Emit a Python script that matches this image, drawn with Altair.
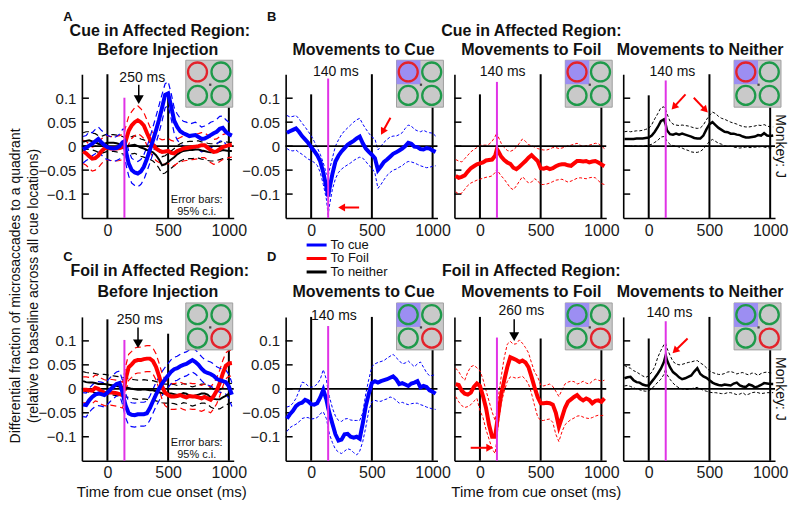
import math
import altair as alt
import pandas as pd

# ---------------- data (time grid in ms) ----------------
T = [-200, -175, -150, -125, -100, -75, -50, -25,
     0, 25, 50, 75, 100, 125,
     140,
     150, 175, 200, 225, 250, 275, 300, 325, 350, 375,
     400, 425, 450, 475, 500, 525, 550, 575, 600, 625,
     650, 675, 700, 725, 750, 775, 800, 825, 850, 875,
     900, 925, 950, 975, 1000, 1025]

# Panel A (cue in affected region, before injection)
A_BLUE = [-0.007, -0.003, 0.001, 0.005, 0.010, 0.015, 0.008, 0.002,
          -0.002, -0.004, -0.005, -0.004, 0.000, 0.008,
          0.010,
          -0.008, -0.036, -0.050, -0.055, -0.057, -0.053, -0.043, -0.027, -0.008, 0.012,
          0.033, 0.055, 0.080, 0.107, 0.110, 0.083, 0.053, 0.040, 0.031, 0.027,
          0.024, 0.021, 0.022, 0.023, 0.019, 0.015, 0.016, 0.019, 0.023, 0.027,
          0.030, 0.036, 0.038, 0.030, 0.025, 0.022]
A_BLUE_HI = [0.020, 0.022, 0.030, 0.028, 0.035, 0.040, 0.033, 0.028,
             0.022, 0.020, 0.018, 0.020, 0.025, 0.035,
             0.036,
             0.018, -0.010, -0.025, -0.030, -0.032, -0.028, -0.018, -0.002, 0.018, 0.040,
             0.062, 0.085, 0.108, 0.130, 0.135, 0.110, 0.080, 0.067, 0.058, 0.052,
             0.050, 0.046, 0.048, 0.050, 0.045, 0.040, 0.042, 0.045, 0.050, 0.052,
             0.056, 0.062, 0.063, 0.055, 0.050, 0.047]
A_BLUE_LO = [-0.035, -0.030, -0.026, -0.020, -0.016, -0.010, -0.018, -0.025,
             -0.028, -0.030, -0.032, -0.030, -0.027, -0.020,
             -0.017,
             -0.035, -0.062, -0.077, -0.082, -0.085, -0.080, -0.070, -0.053, -0.035, -0.015,
             0.006, 0.028, 0.052, 0.080, 0.085, 0.057, 0.027, 0.013, 0.005, 0.000,
             -0.003, -0.006, -0.004, -0.003, -0.007, -0.012, -0.010, -0.008, -0.004, 0.000,
             0.004, 0.010, 0.012, 0.004, -0.002, -0.005]
A_RED = [-0.011, -0.015, -0.021, -0.026, -0.025, -0.020, -0.011, -0.005,
         -0.003, -0.005, -0.005, -0.005, -0.004, -0.002,
         0.004,
         0.010, 0.032, 0.043, 0.050, 0.054, 0.050, 0.043, 0.028, 0.014, 0.003,
         -0.005, -0.009, -0.012, -0.011, -0.010, -0.014, -0.015, -0.010, -0.008, -0.005,
         -0.004, -0.003, -0.002, -0.001, 0.000, 0.002, 0.002, -0.003, -0.008, -0.012,
         -0.011, -0.006, -0.002, 0.000, 0.002, 0.003]
A_RED_HI = [0.012, 0.010, 0.004, -0.002, 0.000, 0.006, 0.015, 0.020,
            0.022, 0.020, 0.020, 0.021, 0.022, 0.025,
            0.032,
            0.040, 0.062, 0.072, 0.080, 0.084, 0.078, 0.070, 0.055, 0.040, 0.028,
            0.020, 0.016, 0.013, 0.014, 0.016, 0.012, 0.010, 0.015, 0.018, 0.021,
            0.022, 0.023, 0.024, 0.025, 0.026, 0.028, 0.028, 0.023, 0.018, 0.014,
            0.015, 0.020, 0.024, 0.026, 0.028, 0.029]
A_RED_LO = [-0.036, -0.040, -0.046, -0.052, -0.050, -0.045, -0.037, -0.030,
            -0.028, -0.030, -0.030, -0.031, -0.030, -0.028,
            -0.024,
            -0.018, 0.004, 0.016, 0.022, 0.026, 0.022, 0.016, 0.002, -0.012, -0.022,
            -0.030, -0.034, -0.038, -0.037, -0.036, -0.040, -0.041, -0.036, -0.034, -0.031,
            -0.030, -0.029, -0.028, -0.027, -0.026, -0.024, -0.024, -0.029, -0.034, -0.038,
            -0.037, -0.032, -0.028, -0.026, -0.024, -0.023]
A_BLK = [0.009, 0.011, 0.012, 0.010, 0.008, 0.005, 0.003, 0.005,
         0.007, 0.007, 0.007, 0.006, 0.004, 0.002,
         0.001,
         0.000, 0.001, 0.002, 0.003, 0.000, -0.003, -0.005, -0.008, -0.010, -0.013,
         -0.019, -0.028, -0.040, -0.038, -0.033, -0.028, -0.023, -0.017, -0.013, -0.010,
         -0.009, -0.008, -0.008, -0.007, -0.007, -0.009, -0.010, -0.012, -0.013, -0.013,
         -0.012, -0.010, -0.008, -0.009, -0.010, -0.010]
A_BLK_HI = [0.028, 0.030, 0.030, 0.027, 0.026, 0.022, 0.020, 0.023,
            0.025, 0.024, 0.024, 0.023, 0.022, 0.020,
            0.018,
            0.017, 0.019, 0.020, 0.022, 0.018, 0.015, 0.013, 0.010, 0.008, 0.005,
            -0.001, -0.010, -0.022, -0.020, -0.015, -0.010, -0.005, 0.001, 0.005, 0.008,
            0.009, 0.010, 0.010, 0.011, 0.011, 0.009, 0.008, 0.006, 0.005, 0.005,
            0.006, 0.008, 0.010, 0.009, 0.008, 0.008]
A_BLK_LO = [-0.009, -0.007, -0.006, -0.008, -0.010, -0.013, -0.015, -0.013,
            -0.011, -0.011, -0.011, -0.012, -0.014, -0.016,
            -0.017,
            -0.018, -0.017, -0.016, -0.015, -0.018, -0.021, -0.023, -0.026, -0.028, -0.031,
            -0.037, -0.046, -0.058, -0.056, -0.051, -0.046, -0.041, -0.035, -0.031, -0.028,
            -0.027, -0.026, -0.026, -0.025, -0.025, -0.027, -0.028, -0.030, -0.031, -0.031,
            -0.030, -0.028, -0.026, -0.027, -0.028, -0.028]

# Panel C (foil in affected region, before injection)
C_BLUE = [-0.033, -0.034, -0.024, -0.017, -0.012, -0.010, -0.011, -0.013,
          -0.008, -0.001, 0.005, 0.010, 0.012, -0.008,
          -0.025,
          -0.035, -0.051, -0.054, -0.055, -0.053, -0.053, -0.053, -0.051, -0.040, -0.026,
          -0.012, 0.000, 0.011, 0.020, 0.028, 0.036, 0.041, 0.043, 0.047, 0.050,
          0.052, 0.056, 0.060, 0.056, 0.050, 0.042, 0.036, 0.033, 0.031, 0.027,
          0.021, 0.018, 0.016, 0.014, 0.005, -0.012]
C_BLUE_HI = [-0.008, -0.009, 0.001, 0.008, 0.013, 0.015, 0.014, 0.012,
             0.017, 0.024, 0.030, 0.035, 0.037, 0.017,
             0.000,
             -0.010, -0.026, -0.029, -0.030, -0.028, -0.028, -0.028, -0.026, -0.015, -0.001,
             0.013, 0.025, 0.036, 0.045, 0.053, 0.061, 0.066, 0.068, 0.072, 0.075,
             0.077, 0.081, 0.085, 0.081, 0.075, 0.067, 0.061, 0.058, 0.056, 0.052,
             0.046, 0.043, 0.041, 0.039, 0.030, 0.013]
C_BLUE_LO = [-0.058, -0.059, -0.049, -0.042, -0.037, -0.035, -0.036, -0.038,
             -0.033, -0.026, -0.020, -0.015, -0.013, -0.033,
             -0.050,
             -0.060, -0.076, -0.079, -0.080, -0.078, -0.078, -0.078, -0.076, -0.065, -0.051,
             -0.037, -0.025, -0.014, -0.005, 0.003, 0.011, 0.016, 0.018, 0.022, 0.025,
             0.027, 0.031, 0.035, 0.031, 0.025, 0.017, 0.011, 0.008, 0.006, 0.002,
             -0.004, -0.007, -0.009, -0.011, -0.020, -0.037]
C_RED = [-0.002, -0.002, -0.003, -0.004, 0.002, 0.000, -0.005, -0.008,
         -0.009, -0.007, -0.008, -0.009, -0.011, -0.013,
         0.005,
         0.020, 0.045, 0.051, 0.058, 0.060, 0.060, 0.062, 0.063, 0.063, 0.058,
         0.046, 0.027, 0.005, -0.008, -0.013, -0.016, -0.016, -0.015, -0.013, -0.016,
         -0.018, -0.015, -0.016, -0.016, -0.018, -0.020, -0.017, -0.020, -0.023, -0.015,
         -0.004, 0.012, 0.032, 0.048, 0.053, 0.054]
C_RED_HI = [0.025, 0.025, 0.024, 0.023, 0.029, 0.027, 0.022, 0.019,
            0.018, 0.020, 0.019, 0.018, 0.016, 0.014,
            0.032,
            0.047, 0.072, 0.078, 0.085, 0.087, 0.087, 0.089, 0.090, 0.090, 0.085,
            0.073, 0.054, 0.032, 0.019, 0.014, 0.011, 0.011, 0.012, 0.014, 0.011,
            0.009, 0.012, 0.011, 0.011, 0.009, 0.007, 0.010, 0.007, 0.004, 0.012,
            0.023, 0.039, 0.059, 0.075, 0.080, 0.081]
C_RED_LO = [-0.029, -0.029, -0.030, -0.031, -0.025, -0.027, -0.032, -0.035,
            -0.036, -0.034, -0.035, -0.036, -0.038, -0.040,
            -0.022,
            -0.007, 0.018, 0.024, 0.031, 0.033, 0.033, 0.035, 0.036, 0.036, 0.031,
            0.019, 0.000, -0.022, -0.035, -0.040, -0.043, -0.043, -0.042, -0.040, -0.043,
            -0.045, -0.042, -0.043, -0.043, -0.045, -0.047, -0.044, -0.047, -0.050, -0.042,
            -0.031, -0.015, 0.005, 0.021, 0.026, 0.027]
C_BLK = [0.016, 0.014, 0.013, 0.013, 0.012, 0.010, 0.010, 0.010,
         0.009, 0.008, 0.007, 0.006, 0.005, 0.004,
         0.003,
         0.003, 0.002, 0.000, -0.001, -0.002, -0.002, -0.001, -0.002, -0.003, -0.003,
         -0.005, -0.007, -0.009, -0.010, -0.010, -0.010, -0.011, -0.013, -0.012, -0.009,
         -0.010, -0.014, -0.016, -0.014, -0.012, -0.010, -0.010, -0.012, -0.018, -0.021,
         -0.022, -0.022, -0.018, -0.015, -0.010, -0.008]
C_BLK_HI = [0.036, 0.034, 0.033, 0.033, 0.032, 0.030, 0.030, 0.030,
            0.029, 0.028, 0.027, 0.026, 0.025, 0.024,
            0.023,
            0.023, 0.022, 0.020, 0.019, 0.018, 0.018, 0.019, 0.018, 0.017, 0.017,
            0.015, 0.013, 0.011, 0.010, 0.010, 0.010, 0.009, 0.007, 0.008, 0.011,
            0.010, 0.006, 0.004, 0.006, 0.008, 0.010, 0.010, 0.008, 0.002, -0.001,
            -0.002, -0.002, 0.002, 0.005, 0.010, 0.012]
C_BLK_LO = [-0.004, -0.006, -0.007, -0.007, -0.008, -0.010, -0.010, -0.010,
            -0.011, -0.012, -0.013, -0.014, -0.015, -0.016,
            -0.017,
            -0.017, -0.018, -0.020, -0.021, -0.022, -0.022, -0.021, -0.022, -0.023, -0.023,
            -0.025, -0.027, -0.029, -0.030, -0.030, -0.030, -0.031, -0.033, -0.032, -0.029,
            -0.030, -0.034, -0.036, -0.034, -0.032, -0.030, -0.030, -0.032, -0.038, -0.041,
            -0.042, -0.042, -0.038, -0.035, -0.030, -0.028]

# Panel B (cue in affected region): to cue / to foil / to neither
B1 = [0.028, 0.031, 0.034, 0.037, 0.030, 0.021, 0.014, 0.007,
      -0.002, -0.010, -0.019, -0.032, -0.055, -0.085,
      -0.105,
      -0.090, -0.058, -0.032, -0.020, -0.011, -0.004, 0.003, 0.007, 0.011, 0.016,
      0.020, 0.006, -0.005, -0.012, -0.018, -0.025, -0.050, -0.042, -0.033, -0.028,
      -0.022, -0.016, -0.013, -0.009, -0.005, 0.000, 0.007, 0.005, -0.001, -0.002,
      -0.006, -0.007, -0.004, -0.005, -0.009, -0.012]
B1_HI = [0.064, 0.061, 0.062, 0.064, 0.057, 0.048, 0.040, 0.031,
         0.022, 0.010, -0.003, -0.017, -0.035, -0.057,
         -0.063,
         -0.050, -0.025, 0.000, 0.013, 0.024, 0.032, 0.038, 0.044, 0.050, 0.055,
         0.058, 0.046, 0.036, 0.027, 0.019, 0.015, -0.008, 0.000, 0.008, 0.014,
         0.019, 0.021, 0.021, 0.024, 0.028, 0.037, 0.044, 0.042, 0.035, 0.032,
         0.030, 0.033, 0.030, 0.028, 0.027, 0.021]
B1_LO = [-0.005, -0.009, -0.010, -0.008, -0.013, -0.017, -0.022, -0.027,
         -0.030, -0.034, -0.040, -0.055, -0.080, -0.110,
         -0.143,
         -0.125, -0.090, -0.068, -0.055, -0.048, -0.043, -0.039, -0.035, -0.030, -0.026,
         -0.023, -0.025, -0.032, -0.040, -0.046, -0.056, -0.088, -0.080, -0.070, -0.061,
         -0.055, -0.050, -0.048, -0.044, -0.041, -0.035, -0.032, -0.033, -0.035, -0.038,
         -0.041, -0.043, -0.045, -0.044, -0.042, -0.041]
B2 = [-0.062, -0.066, -0.064, -0.061, -0.053, -0.046, -0.042, -0.038,
      -0.036, -0.034, -0.030, -0.029, -0.028, -0.020,
      -0.006,
      -0.010, -0.022, -0.029, -0.034, -0.037, -0.045, -0.048, -0.043, -0.037, -0.031,
      -0.024, -0.019, -0.025, -0.031, -0.046, -0.047, -0.045, -0.048, -0.046, -0.042,
      -0.039, -0.038, -0.038, -0.040, -0.041, -0.036, -0.031, -0.031, -0.032, -0.031,
      -0.034, -0.032, -0.031, -0.034, -0.038, -0.042]
B2_HI = [-0.028, -0.031, -0.033, -0.026, -0.019, -0.012, -0.007, -0.003,
         0.002, 0.002, 0.002, 0.004, 0.010, 0.020,
         0.029,
         0.020, 0.006, -0.003, -0.009, -0.011, -0.008, -0.002, 0.006, 0.015, 0.010,
         0.003, 0.001, -0.002, -0.005, -0.007, -0.008, -0.008, -0.006, -0.003, -0.003,
         -0.005, -0.004, -0.002, 0.001, 0.002, 0.004, 0.006, 0.002, -0.001, 0.001,
         0.002, 0.004, 0.006, 0.005, 0.000, -0.005]
B2_LO = [-0.095, -0.100, -0.098, -0.090, -0.082, -0.077, -0.074, -0.071,
         -0.069, -0.067, -0.065, -0.064, -0.062, -0.055,
         -0.048,
         -0.053, -0.062, -0.069, -0.078, -0.087, -0.091, -0.083, -0.073, -0.064, -0.070,
         -0.077, -0.075, -0.068, -0.072, -0.080, -0.080, -0.079, -0.077, -0.074, -0.071,
         -0.070, -0.069, -0.072, -0.075, -0.073, -0.070, -0.067, -0.066, -0.067, -0.068,
         -0.066, -0.065, -0.066, -0.072, -0.078, -0.080]
B3 = [0.015, 0.015, 0.015, 0.015, 0.016, 0.016, 0.016, 0.017,
      0.018, 0.022, 0.030, 0.040, 0.052, 0.056,
      0.045,
      0.033, 0.025, 0.024, 0.026, 0.024, 0.026, 0.024, 0.022, 0.020, 0.017,
      0.016, 0.016, 0.022, 0.035, 0.046, 0.050, 0.044, 0.038, 0.034, 0.030,
      0.029, 0.026, 0.026, 0.024, 0.023, 0.020, 0.018, 0.018, 0.019, 0.020,
      0.023, 0.022, 0.027, 0.022, 0.021, 0.022]
B3_HI = [0.030, 0.031, 0.030, 0.031, 0.032, 0.032, 0.033, 0.035,
         0.037, 0.045, 0.057, 0.068, 0.080, 0.082,
         0.076,
         0.068, 0.052, 0.046, 0.044, 0.043, 0.044, 0.043, 0.042, 0.040, 0.038,
         0.037, 0.038, 0.044, 0.055, 0.064, 0.071, 0.068, 0.062, 0.058, 0.056,
         0.053, 0.050, 0.048, 0.046, 0.043, 0.041, 0.040, 0.040, 0.041, 0.042,
         0.044, 0.043, 0.045, 0.042, 0.040, 0.040]
B3_LO = [0.001, 0.000, 0.000, 0.001, 0.000, 0.000, 0.000, 0.001,
         0.002, 0.004, 0.008, 0.012, 0.019, 0.020,
         0.016,
         0.010, 0.004, 0.001, 0.000, -0.002, -0.004, -0.007, -0.009, -0.012, -0.013,
         -0.013, -0.011, -0.006, 0.002, 0.010, 0.014, 0.010, 0.006, 0.004, 0.001,
         -0.001, 0.000, -0.002, -0.003, -0.004, -0.003, -0.002, -0.003, -0.003, -0.002,
         -0.002, -0.001, -0.002, -0.003, -0.004, -0.003]

# Panel D (foil in affected region): to cue / to foil / to neither
D1 = [-0.062, -0.053, -0.046, -0.036, -0.031, -0.029, -0.023, -0.026,
      -0.032, -0.033, -0.030, -0.018, -0.002, -0.022,
      -0.040,
      -0.050, -0.073, -0.095, -0.108, -0.106, -0.095, -0.094, -0.100, -0.102, -0.100,
      -0.104, -0.072, -0.036, -0.010, 0.012, 0.016, 0.013, 0.016, 0.018, 0.020,
      0.023, 0.026, 0.020, 0.010, 0.012, 0.009, 0.006, 0.011, 0.013, 0.016,
      0.003, 0.006, 0.004, -0.003, -0.006, -0.010]
D1_HI = [-0.038, -0.036, -0.030, -0.020, -0.005, 0.014, 0.012, 0.006,
         0.003, 0.005, 0.010, 0.020, 0.040, 0.020,
         -0.005,
         -0.016, -0.040, -0.057, -0.066, -0.068, -0.063, -0.062, -0.065, -0.066, -0.066,
         -0.066, -0.050, -0.010, 0.020, 0.046, 0.052, 0.055, 0.057, 0.059, 0.064,
         0.068, 0.072, 0.065, 0.059, 0.052, 0.054, 0.058, 0.052, 0.046, 0.052,
         0.056, 0.045, 0.034, 0.027, 0.028, 0.030]
D1_LO = [-0.089, -0.081, -0.077, -0.074, -0.069, -0.062, -0.060, -0.060,
         -0.063, -0.062, -0.060, -0.052, -0.048, -0.062,
         -0.080,
         -0.094, -0.112, -0.126, -0.132, -0.135, -0.130, -0.125, -0.127, -0.133, -0.138,
         -0.130, -0.110, -0.080, -0.045, -0.027, -0.024, -0.026, -0.026, -0.023, -0.021,
         -0.017, -0.019, -0.024, -0.030, -0.028, -0.031, -0.033, -0.031, -0.030, -0.030,
         -0.033, -0.035, -0.038, -0.040, -0.042, -0.043]
D2 = [0.010, 0.008, -0.004, -0.010, -0.012, -0.008, 0.004, 0.011,
      0.006, -0.015, -0.040, -0.075, -0.100, -0.100,
      -0.072,
      -0.055, -0.012, 0.018, 0.045, 0.066, 0.063, 0.060, 0.056, 0.059, 0.055,
      0.045, 0.025, 0.003, -0.017, -0.030, -0.030, -0.029, -0.030, -0.033, -0.050,
      -0.079, -0.060, -0.040, -0.027, -0.022, -0.017, -0.013, -0.020, -0.024, -0.020,
      -0.023, -0.030, -0.025, -0.024, -0.027, -0.020]
D2_HI = [0.043, 0.036, 0.025, 0.018, 0.035, 0.046, 0.049, 0.044,
         0.038, 0.020, -0.003, -0.026, -0.048, -0.066,
         -0.045,
         -0.020, 0.025, 0.065, 0.093, 0.099, 0.093, 0.094, 0.102, 0.095, 0.086,
         0.075, 0.054, 0.035, 0.025, 0.008, 0.006, 0.008, 0.010, 0.005, -0.005,
         -0.016, -0.003, 0.010, 0.014, 0.016, 0.015, 0.010, 0.012, 0.016, 0.012,
         0.010, 0.016, 0.020, 0.018, 0.016, 0.018]
D2_LO = [-0.016, -0.027, -0.035, -0.039, -0.037, -0.033, -0.026, -0.020,
         -0.045, -0.060, -0.085, -0.105, -0.125, -0.135,
         -0.105,
         -0.075, -0.030, -0.005, 0.015, 0.025, 0.024, 0.022, 0.024, 0.026, 0.020,
         0.010, -0.010, -0.035, -0.058, -0.066, -0.066, -0.064, -0.063, -0.070, -0.095,
         -0.110, -0.090, -0.075, -0.069, -0.064, -0.061, -0.057, -0.056, -0.059, -0.061,
         -0.062, -0.060, -0.057, -0.055, -0.056, -0.055]
D3 = [0.022, 0.024, 0.025, 0.018, 0.014, 0.013, 0.009, 0.007,
      0.007, 0.015, 0.023, 0.032, 0.042, 0.056,
      0.070,
      0.060, 0.045, 0.035, 0.030, 0.024, 0.020, 0.022, 0.025, 0.028, 0.036,
      0.043, 0.031, 0.026, 0.023, 0.018, 0.013, 0.010, 0.008, 0.007, 0.009,
      0.008, 0.007, 0.011, 0.013, 0.007, 0.005, 0.004, 0.009, 0.007, 0.003,
      0.005, 0.008, 0.012, 0.011, 0.010, 0.010]
D3_HI = [0.049, 0.045, 0.043, 0.038, 0.035, 0.031, 0.027, 0.024,
         0.027, 0.035, 0.046, 0.066, 0.080, 0.092,
         0.095,
         0.085, 0.070, 0.057, 0.052, 0.050, 0.051, 0.053, 0.055, 0.056, 0.058,
         0.059, 0.054, 0.050, 0.044, 0.038, 0.034, 0.032, 0.030, 0.030, 0.032,
         0.035, 0.036, 0.034, 0.031, 0.033, 0.034, 0.031, 0.029, 0.033, 0.032,
         0.028, 0.032, 0.034, 0.035, 0.033, 0.033]
D3_LO = [0.006, 0.007, 0.005, 0.002, 0.000, -0.002, -0.004, -0.005,
         -0.004, 0.000, 0.007, 0.014, 0.020, 0.030,
         0.042,
         0.030, 0.020, 0.012, 0.006, 0.002, 0.000, -0.001, -0.001, 0.000, 0.002,
         0.003, 0.000, -0.003, -0.005, -0.007, -0.008, -0.008, -0.009, -0.010, -0.010,
         -0.008, -0.008, -0.010, -0.012, -0.011, -0.008, -0.013, -0.011, -0.008, -0.007,
         -0.008, -0.010, -0.009, -0.008, -0.008, -0.008]

Y_TICKS = [-0.1, -0.05, 0.0, 0.05, 0.1]
X_TICKS = [0, 500, 1000]
REF_LINES = [0, 500, 1000]
SACCADE_MS = 140
LEGEND = [("To cue", "#0000ff"), ("To Foil", "#ff0000"), ("To neither", "#000000")]

# ---------------- layout / style ----------------
W, H = 152, 144
XMIN, XMAX = -210, 1040
YMIN, YMAX = -0.15, 0.15
KX = (XMAX - XMIN) / W
KY = (YMAX - YMIN) / H
FONT = "Liberation Sans"
BLUE, RED, BLACK = "#0000ff", "#ff0000", "#000000"
MAGENTA = "#e033e6"
CGREEN, CRED = "#1e9a4a", "#e3222b"
PURPLE = "#9c8ef2"
TXT = "#111111"
ONE = pd.DataFrame({"k": [0]})
XS = alt.Scale(domain=[XMIN, XMAX], nice=False, zero=False)
YS = alt.Scale(domain=[YMIN, YMAX], nice=False, zero=False)
INSET = 47
INSET_TOP = -14


def px_t(px):
    return XMIN + px * KX


def px_v(py):
    return YMAX - py * KY


INSET_BOT = px_v(INSET_TOP + INSET)


def make_panel(cfg):
    lab = cfg.get("ylabels", False)
    axx = alt.Axis(values=X_TICKS, format="d", title=None, ticks=False, grid=False,
                   labelFontSize=16, labelPadding=4, labelFont=FONT, labelColor="#1a1a1a",
                   domainColor="black", domainWidth=1.6)
    axy = alt.Axis(values=Y_TICKS, format="~g", title=None, ticks=False, grid=False,
                   labels=lab, labelFontSize=15, labelPadding=6, labelFont=FONT,
                   labelColor="#1a1a1a", domainColor="black", domainWidth=1.6)

    def xe(f):
        return alt.X(f, type="quantitative", scale=XS, axis=axx)

    def ye(f):
        return alt.Y(f, type="quantitative", scale=YS, axis=axy)

    L = []
    # vertical reference lines
    L.append(alt.Chart(pd.DataFrame({"t": REF_LINES, "lo": [YMIN] * 3, "hi": cfg["vtops"]}))
             .mark_rule(color="black", strokeWidth=2)
             .encode(x=xe("t"), y=ye("lo"), y2="hi"))
    # inward y ticks
    L.append(alt.Chart(pd.DataFrame({"v": Y_TICKS}))
             .mark_rule(color="black", strokeWidth=1.5)
             .encode(y=ye("v"), x=alt.value(0), x2=alt.value(7)))
    dash = [6, 4] if cfg["style"] == "AC" else [3, 2]
    cw = 1.2 if cfg["style"] == "AC" else 1.0
    for mean, hi, lo, color, mw in cfg["series"]:
        assert len(mean) == len(T) and len(hi) == len(T) and len(lo) == len(T)
        df = pd.DataFrame({"t": T * 2, "v": hi + lo, "kind": ["hi"] * len(T) + ["lo"] * len(T)})
        L.append(alt.Chart(df).mark_line(color=color, strokeWidth=cw, strokeDash=dash)
                 .encode(x=xe("t"), y=ye("v"), detail="kind:N"))
    # zero line
    L.append(alt.Chart(pd.DataFrame({"v": [0.0]}))
             .mark_rule(color="black", strokeWidth=1.6).encode(y=ye("v")))
    for mean, hi, lo, color, mw in cfg["series"]:
        L.append(alt.Chart(pd.DataFrame({"t": T, "v": mean}))
                 .mark_line(color=color, strokeWidth=mw)
                 .encode(x=xe("t"), y=ye("v")))
    # saccade-latency marker
    L.append(alt.Chart(pd.DataFrame({"t": [SACCADE_MS], "lo": [YMIN], "hi": [cfg["mag_top"]]}))
             .mark_rule(color=MAGENTA, strokeWidth=2)
             .encode(x=xe("t"), y=ye("lo"), y2="hi"))

    # inset with the four cue locations
    il = W - 48 if cfg["style"] == "AC" else W - 41
    it = INSET_TOP
    L.append(alt.Chart(pd.DataFrame({"x1": [px_t(il)], "x2": [px_t(il + INSET)],
                                     "y1": [px_v(it)], "y2": [px_v(it + INSET)]}))
             .mark_rect(fill="#c9c9c9", stroke="#a0a0a0", strokeWidth=1)
             .encode(x=xe("x1"), x2="x2", y=ye("y1"), y2="y2"))
    if cfg.get("purple"):
        L.append(alt.Chart(pd.DataFrame({"x1": [px_t(il)], "x2": [px_t(il + 24)],
                                         "y1": [px_v(it)], "y2": [px_v(it + 24)]}))
                 .mark_rect(fill=PURPLE)
                 .encode(x=xe("x1"), x2="x2", y=ye("y1"), y2="y2"))
    cmap = {"r": CRED, "g": CGREEN}
    offs = [(11.75, 11.75), (35.25, 11.75), (11.75, 35.25), (35.25, 35.25)]
    L.append(alt.Chart(pd.DataFrame({
        "cx": [px_t(il + a) for a, b in offs],
        "cy": [px_v(it + b) for a, b in offs],
        "c": [cmap[c] for c in cfg["inset"]]}))
        .mark_point(shape="circle", filled=False, size=361, strokeWidth=2.3, opacity=1)
        .encode(x=xe("cx"), y=ye("cy"), stroke=alt.Stroke("c:N", scale=None)))
    L.append(alt.Chart(pd.DataFrame({"cx": [px_t(il + 24.5)], "cy": [px_v(it + 24.5)]}))
             .mark_point(shape="square", filled=True, size=5, color="#444444", opacity=1)
             .encode(x=xe("cx"), y=ye("cy")))

    # annotation texts in data coordinates
    for txt, t, v in cfg.get("notes", []):
        L.append(alt.Chart(pd.DataFrame({"t": [t], "v": [v]}))
                 .mark_text(text=txt, font=FONT, fontSize=14, color=TXT, baseline="middle")
                 .encode(x=xe("t"), y=ye("v")))
    # arrows
    for t1, v1, t2, v2, color, sw, hs in cfg.get("arrows", []):
        dx = (t2 - t1) / KX
        dy = -(v2 - v1) / KY
        ln = math.hypot(dx, dy)
        ux, uy = dx / ln, dy / ln
        ang = math.degrees(math.atan2(ux, -uy)) % 360
        back = 0.433 * math.sqrt(hs)
        ht = t2 - ux * back * KX
        hv = v2 + uy * back * KY
        L.append(alt.Chart(pd.DataFrame({"t": [t1], "v": [v1], "t2": [ht], "v2": [hv]}))
                 .mark_rule(color=color, strokeWidth=sw)
                 .encode(x=xe("t"), y=ye("v"), x2="t2", y2="v2"))
        L.append(alt.Chart(pd.DataFrame({"t": [ht], "v": [hv]}))
                 .mark_point(shape="triangle", filled=True, size=hs, angle=ang, color=color, opacity=1)
                 .encode(x=xe("t"), y=ye("v")))
    # legend
    if cfg.get("legend"):
        for (name, color), y in zip(LEGEND, [-72, -58.5, -45]):
            L.append(alt.Chart(ONE).mark_rule(color=color, strokeWidth=3)
                     .encode(x=alt.value(21), x2=alt.value(41), y=alt.value(y)))
            L.append(alt.Chart(ONE).mark_text(text=name, font=FONT, fontSize=13, align="left",
                                              baseline="middle", color=TXT)
                     .encode(x=alt.value(45), y=alt.value(y)))
    # pixel-placed texts (titles, labels)
    for item in cfg.get("ptexts", []):
        txt, x, y, size, weight = item[:5]
        angle = item[5] if len(item) > 5 else 0
        L.append(alt.Chart(ONE).mark_text(text=txt, font=FONT, fontSize=size, fontWeight=weight,
                                          align="center", baseline="middle", angle=angle, color=TXT)
                 .encode(x=alt.value(x), y=alt.value(y)))
    return alt.layer(*L).properties(width=W, height=H)


BOLD, NORM = "bold", "normal"
ML = 0.5 * W

pA = make_panel(dict(
    style="AC", ylabels=True, vtops=[0.15, 0.112, INSET_BOT], mag_top=0.101,
    inset=["r", "g", "g", "g"], purple=False,
    series=[(A_BLK, A_BLK_HI, A_BLK_LO, BLACK, 2), (A_RED, A_RED_HI, A_RED_LO, RED, 4),
            (A_BLUE, A_BLUE_HI, A_BLUE_LO, BLUE, 4)],
    notes=[("250 ms", 287, 0.142)],
    arrows=[(258, 0.128, 258, 0.091, "black", 1.5, 100)],
    ptexts=[("A", -14, -57, 13, BOLD),
            ("Cue in Affected Region:", 78, -43, 16, BOLD),
            ("Before Injection", 76, -24, 16, BOLD),
            ("Error bars:", 115, 126, 11, NORM),
            ("95% c.i.", 115, 138, 11, NORM),
            ("Differential fraction of microsaccades to a quadrant", -66, 212, 14, NORM, 270),
            ("(relative to baseline across all cue locations)", -48, 212, 14, NORM, 270)]))

pB1 = make_panel(dict(
    style="BD", ylabels=True, vtops=[0.108, 0.15, INSET_BOT], mag_top=0.141,
    inset=["r", "g", "g", "g"], purple=True,
    series=[(B1, B1_HI, B1_LO, BLUE, 4)],
    notes=[("140 ms", 203, 0.155)],
    arrows=[(395, -0.128, 232, -0.128, RED, 2, 64), (653, 0.059, 580, 0.026, RED, 2, 64)],
    ptexts=[("B", -14, -57, 13, BOLD), ("Movements to Cue", ML + 2, -24, 16, BOLD)]))

pB2 = make_panel(dict(
    style="BD", ylabels=False, vtops=[0.108, 0.15, INSET_BOT], mag_top=0.134,
    inset=["r", "g", "g", "g"], purple=True,
    series=[(B2, B2_HI, B2_LO, RED, 4)],
    notes=[("140 ms", 187, 0.155)],
    ptexts=[("Cue in Affected Region:", ML + 1, -43, 16, BOLD),
            ("Movements to Foil", ML + 1, -24, 16, BOLD)]))

pB3 = make_panel(dict(
    style="BD", ylabels=False, vtops=[0.106, 0.15, INSET_BOT], mag_top=0.137,
    inset=["r", "g", "g", "g"], purple=True,
    series=[(B3, B3_HI, B3_LO, BLACK, 2.5)],
    notes=[("140 ms", 195, 0.155)],
    arrows=[(303, 0.108, 195, 0.078, RED, 2, 64), (371, 0.101, 480, 0.072, RED, 2, 64)],
    ptexts=[("Movements to Neither", ML + 1, -24, 16, BOLD),
            ("Monkey: J", W + 5, H / 2, 14, NORM, 90)]))

pC = make_panel(dict(
    style="AC", ylabels=True, vtops=[0.145, 0.115, INSET_BOT], mag_top=0.102,
    inset=["g", "g", "g", "r"], purple=False,
    series=[(C_BLK, C_BLK_HI, C_BLK_LO, BLACK, 2), (C_RED, C_RED_HI, C_RED_LO, RED, 4),
            (C_BLUE, C_BLUE_HI, C_BLUE_LO, BLUE, 4)],
    notes=[("250 ms", 266, 0.144)],
    arrows=[(252, 0.128, 252, 0.088, "black", 1.5, 100)],
    ptexts=[("C", -14, -60, 13, BOLD),
            ("Foil in Affected Region:", 78, -46, 16, BOLD),
            ("Before Injection", 76, -25, 16, BOLD),
            ("Error bars:", 115, 126, 11, NORM),
            ("95% c.i.", 115, 138, 11, NORM),
            ("Time from cue onset (ms)", 80, H + 31, 15, NORM)]))

pD1 = make_panel(dict(
    style="BD", ylabels=True, vtops=[0.15, 0.15, INSET_BOT], mag_top=0.131,
    inset=["g", "g", "g", "r"], purple=True, legend=True,
    series=[(D1, D1_HI, D1_LO, BLUE, 4)],
    notes=[("140 ms", 187, 0.152)],
    ptexts=[("D", -14, -60, 13, BOLD), ("Movements to Cue", ML + 2, -25, 16, BOLD)]))

pD2 = make_panel(dict(
    style="BD", ylabels=False, vtops=[0.15, 0.105, INSET_BOT], mag_top=0.107,
    inset=["g", "g", "g", "r"], purple=True,
    series=[(D2, D2_HI, D2_LO, RED, 4)],
    notes=[("260 ms", 341, 0.162)],
    arrows=[(282, 0.145, 282, 0.103, "black", 1.5, 100), (-76, -0.123, 100, -0.123, RED, 2, 64)],
    ptexts=[("Foil in Affected Region:", ML + 1, -46, 16, BOLD),
            ("Movements to Foil", ML + 1, -25, 16, BOLD),
            ("Time from cue onset (ms)", ML + 6, H + 31, 15, NORM)]))

pD3 = make_panel(dict(
    style="BD", ylabels=False, vtops=[0.105, 0.15, INSET_BOT], mag_top=0.141,
    inset=["g", "g", "g", "r"], purple=True,
    series=[(D3, D3_HI, D3_LO, BLACK, 2.5)],
    notes=[("140 ms", 171, 0.159)],
    arrows=[(320, 0.105, 203, 0.076, RED, 2, 64)],
    ptexts=[("Movements to Neither", ML + 1, -25, 16, BOLD),
            ("Monkey: J", W + 5, H / 2, 14, NORM, 90)]))


def spacer():
    return (alt.Chart(ONE).mark_point(opacity=0)
            .encode(x=alt.value(0), y=alt.value(0))
            .properties(width=18, height=H))


chart = alt.concat(
    pA, spacer(), pB1, pB2, pB3,
    pC, spacer(), pD1, pD2, pD3,
    columns=5, spacing={"row": 99, "column": 17}, bounds="flush",
    padding={"left": 0, "top": 3, "right": 4, "bottom": 0},
).configure_view(stroke=None)

chart.save("out.html", embed_options={"renderer": "svg", "actions": False})
